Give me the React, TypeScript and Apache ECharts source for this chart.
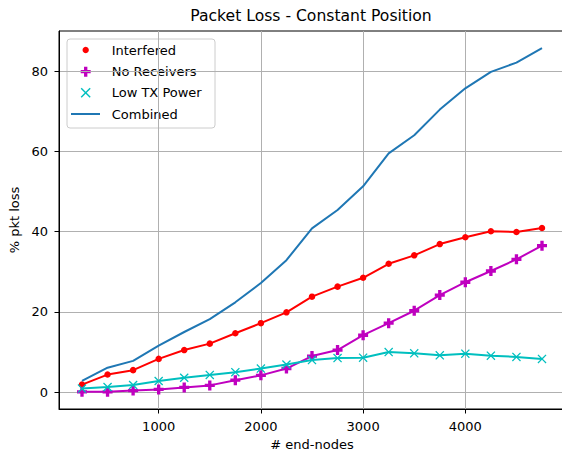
import React, { useEffect, useRef } from "react";
import * as echarts from "echarts";

// Number of end-nodes on the x axis
const endNodes = [250, 500, 750, 1000, 1250, 1500, 1750, 2000, 2250, 2500, 2750, 3000, 3250, 3500, 3750, 4000, 4250, 4500, 4750];

// Packet loss (%) per cause
const interfered = [1.9, 4.4, 5.5, 8.3, 10.5, 12.1, 14.7, 17.2, 19.9, 23.8, 26.3, 28.5, 32.0, 34.1, 36.9, 38.6, 40.1, 39.9, 40.9];
const noReceivers = [0.1, 0.1, 0.4, 0.7, 1.2, 1.7, 3.0, 4.2, 5.9, 9.0, 10.5, 14.2, 17.2, 20.3, 24.2, 27.4, 30.2, 33.1, 36.5];
const lowTxPower = [0.9, 1.3, 1.8, 2.8, 3.6, 4.3, 5.0, 5.9, 6.9, 8.0, 8.5, 8.6, 10.0, 9.7, 9.2, 9.6, 9.1, 8.8, 8.3];
const combined = [2.8, 6.1, 7.8, 11.6, 15.0, 18.2, 22.4, 27.2, 32.9, 40.8, 45.4, 51.3, 59.5, 64.0, 70.4, 75.7, 79.8, 82.1, 85.7];

const xTicks = [1000, 2000, 3000, 4000];
const yTicks = [0, 20, 40, 60, 80];

const seriesNames = ["Interfered", "No Receivers", "Low TX Power", "Combined"];

const FONT = "DejaVu Sans";
const RED = "#ff0000";
const MAGENTA = "#bf00bf";
const CYAN = "#00bfbf";
const BLUE = "#1f77b4";

const PLUS_PATH = "path://M2,0H4V2H6V4H4V6H2V4H0V2H2Z";
const CROSS_PATH = "path://M0,1L1,0L5,4L9,0L10,1L6,5L10,9L9,10L5,6L1,10L0,9L4,5Z";

const pairs = (ys: number[]) => endNodes.map((x, i) => [x, ys[i]]);

// 5% padding around the data range, as in the plotting library defaults
const padRange = (vals: number[]) => {
  const lo = Math.min(...vals);
  const hi = Math.max(...vals);
  const pad = (hi - lo) * 0.05;
  return [lo - pad, hi + pad];
};

export default function App() {
  const ref = useRef<HTMLDivElement>(null);

  useEffect(() => {
    if (!ref.current) return;
    const chart = echarts.init(ref.current, undefined, { renderer: "svg" });

    const [xMin, xMax] = padRange(endNodes);
    const [yMin, yMax] = padRange([...interfered, ...noReceivers, ...lowTxPower, ...combined]);

    const gridLeft = 59;
    const gridTop = 31;
    const gridW = 506;
    const gridH = 378;

    // Legend box contents
    const lx = 85.7;
    const rows = [50, 71.7, 92.7, 114];
    const tx = 111.7;
    const pl = 5;
    const pa = 5 / 3;

    const legendGroup = {
      type: "group",
      z: 100,
      children: [
        {
          type: "rect",
          shape: { x: 67, y: 39, width: 148, height: 89, r: 3 },
          style: { fill: "rgba(255,255,255,0.8)", stroke: "#cccccc", lineWidth: 1 },
        },
        { type: "circle", shape: { cx: lx, cy: rows[0], r: 3.2 }, style: { fill: RED } },
        {
          type: "polygon",
          shape: {
            points: [
              [lx - pa, rows[1] - pl], [lx + pa, rows[1] - pl], [lx + pa, rows[1] - pa], [lx + pl, rows[1] - pa],
              [lx + pl, rows[1] + pa], [lx + pa, rows[1] + pa], [lx + pa, rows[1] + pl], [lx - pa, rows[1] + pl],
              [lx - pa, rows[1] + pa], [lx - pl, rows[1] + pa], [lx - pl, rows[1] - pa], [lx - pa, rows[1] - pa],
            ],
          },
          style: { fill: MAGENTA },
        },
        { type: "line", shape: { x1: lx - 4.5, y1: rows[2] - 4.5, x2: lx + 4.5, y2: rows[2] + 4.5 }, style: { stroke: CYAN, lineWidth: 1.4 } },
        { type: "line", shape: { x1: lx - 4.5, y1: rows[2] + 4.5, x2: lx + 4.5, y2: rows[2] - 4.5 }, style: { stroke: CYAN, lineWidth: 1.4 } },
        { type: "line", shape: { x1: 71, y1: rows[3], x2: 100, y2: rows[3] }, style: { stroke: BLUE, lineWidth: 2 } },
        ...seriesNames.map((name, i) => ({
          type: "text",
          x: tx,
          y: rows[i],
          style: { text: name, font: `13px "${FONT}"`, fill: "#000", align: "left", verticalAlign: "middle" },
        })),
      ],
    };

    const axisLabelStyle = { color: "#000", fontFamily: FONT, fontSize: 13 };

    chart.setOption({
      animation: false,
      backgroundColor: "#ffffff",
      grid: {
        left: gridLeft,
        top: gridTop,
        width: gridW,
        height: gridH,
        outerBoundsMode: "none",
        show: true,
        borderColor: "#000",
        borderWidth: 1,
        backgroundColor: "transparent",
      },
      xAxis: {
        type: "value",
        min: xMin,
        max: xMax,
        interval: 1000,
        name: "# end-nodes",
        nameLocation: "middle",
        nameGap: 28,
        nameTextStyle: axisLabelStyle,
        axisLine: { show: true, onZero: false, lineStyle: { color: "#000", width: 1 } },
        axisTick: { show: true, inside: false, length: 4.5, customValues: xTicks, lineStyle: { color: "#000", width: 1 } },
        axisLabel: { ...axisLabelStyle, margin: 11, customValues: xTicks, formatter: (v: number) => String(v) },
        splitLine: { show: true, lineStyle: { color: "#b0b0b0", width: 1 } },
      },
      yAxis: {
        type: "value",
        min: yMin,
        max: yMax,
        interval: 20,
        name: "% pkt loss",
        nameLocation: "middle",
        nameGap: 36,
        nameTextStyle: axisLabelStyle,
        axisLine: { show: true, onZero: false, lineStyle: { color: "#000", width: 1 } },
        axisTick: { show: true, inside: false, length: 4.5, customValues: yTicks, lineStyle: { color: "#000", width: 1 } },
        axisLabel: { ...axisLabelStyle, margin: 11, customValues: yTicks, formatter: (v: number) => String(v) },
        splitLine: { show: true, lineStyle: { color: "#b0b0b0", width: 1 } },
      },
      graphic: [
        {
          type: "text",
          x: gridLeft + gridW / 2 - 1,
          y: 16,
          z: 100,
          style: {
            text: "Packet Loss - Constant Position",
            font: `15.6px "${FONT}"`,
            fill: "#000",
            align: "center",
            verticalAlign: "middle",
          },
        },
        legendGroup,
      ],
      series: [
        {
          name: seriesNames[0],
          type: "line",
          data: pairs(interfered),
          symbol: "circle",
          symbolSize: 6.5,
          lineStyle: { color: RED, width: 2 },
          itemStyle: { color: RED, borderWidth: 0 },
          z: 2,
        },
        {
          name: seriesNames[1],
          type: "line",
          data: pairs(noReceivers),
          symbol: PLUS_PATH,
          symbolSize: 10,
          lineStyle: { color: MAGENTA, width: 2 },
          itemStyle: { color: MAGENTA, borderWidth: 0 },
          z: 3,
        },
        {
          name: seriesNames[2],
          type: "line",
          data: pairs(lowTxPower),
          symbol: CROSS_PATH,
          symbolSize: 9,
          lineStyle: { color: CYAN, width: 2 },
          itemStyle: { color: CYAN, borderWidth: 0 },
          z: 4,
        },
        {
          name: seriesNames[3],
          type: "line",
          data: pairs(combined),
          showSymbol: false,
          symbol: "none",
          lineStyle: { color: BLUE, width: 2 },
          z: 5,
        },
      ],
    });

    return () => chart.dispose();
  }, []);

  return (
    <div
      ref={ref}
      style={{ position: "fixed", left: 0, top: 0, width: 562, height: 452, background: "#fff" }}
    />
  );
}
